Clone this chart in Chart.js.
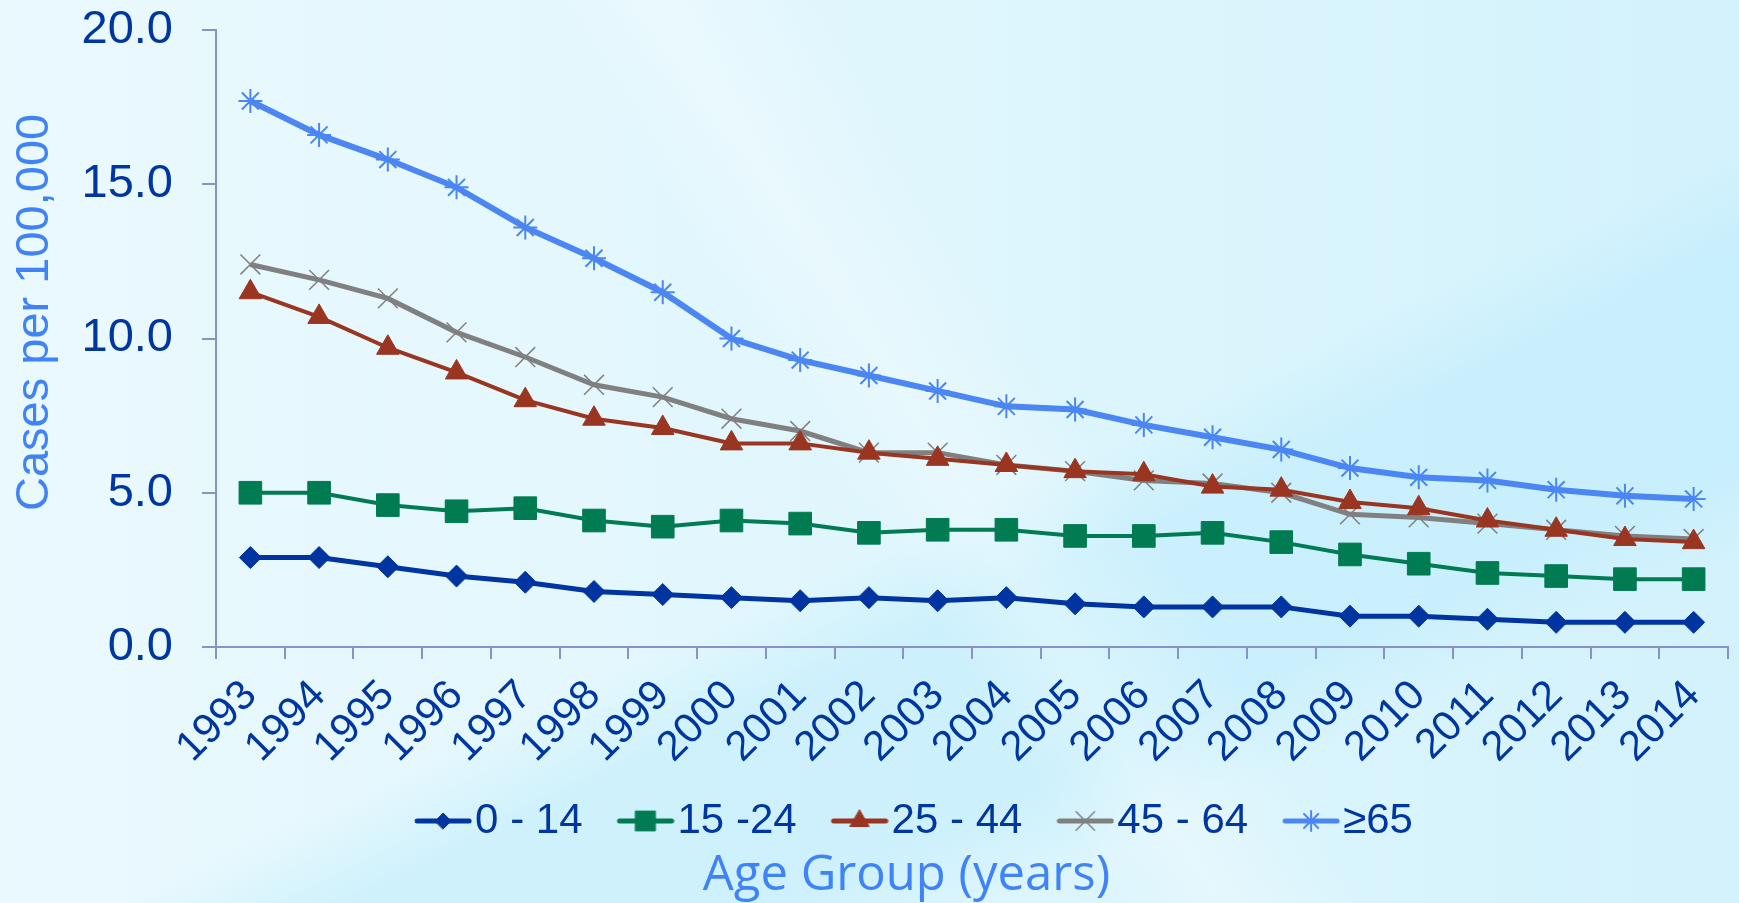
<!DOCTYPE html>
<html>
<head>
<meta charset="utf-8">
<script src="https://cdn.jsdelivr.net/npm/chart.js@4.4.1/dist/chart.umd.min.js"></script>
<style>
html,body{margin:0;padding:0;width:1739px;height:903px;overflow:hidden;}
body{
  background:
    linear-gradient(58deg, rgba(255,255,255,0) 48%, rgba(255,255,255,0.28) 53%, rgba(255,255,255,0) 60%),
    linear-gradient(-25deg, rgba(190,236,252,0) 20%, rgba(190,236,252,0.55) 26%, rgba(190,236,252,0.55) 38%, rgba(190,236,252,0) 44%),
    linear-gradient(90deg, #eaf9fe 0%, #e2f7fd 40%, #d3f2fc 100%);
}
#wrap{position:relative;width:1739px;height:903px;}
</style>
</head>
<body>
<div id="wrap"><canvas id="c" width="1739" height="903"></canvas></div>
<script>
const years = ['1993','1994','1995','1996','1997','1998','1999','2000','2001','2002','2003','2004','2005','2006','2007','2008','2009','2010','2011','2012','2013','2014'];
const seriesNames = ['0 - 14','15 -24','25 - 44','45 - 64','\u226565'];
const age0to14  = [2.9,2.9,2.6,2.3,2.1,1.8,1.7,1.6,1.5,1.6,1.5,1.6,1.4,1.3,1.3,1.3,1.0,1.0,0.9,0.8,0.8,0.8];
const age15to24 = [5.0,5.0,4.6,4.4,4.5,4.1,3.9,4.1,4.0,3.7,3.8,3.8,3.6,3.6,3.7,3.4,3.0,2.7,2.4,2.3,2.2,2.2];
const age25to44 = [11.5,10.7,9.7,8.9,8.0,7.4,7.1,6.6,6.6,6.3,6.1,5.9,5.7,5.6,5.2,5.1,4.7,4.5,4.1,3.8,3.5,3.4];
const age45to64 = [12.4,11.9,11.3,10.2,9.4,8.5,8.1,7.4,7.0,6.3,6.3,5.9,5.7,5.4,5.3,5.0,4.3,4.2,4.0,3.8,3.6,3.5];
const age65plus = [17.7,16.6,15.8,14.9,13.6,12.6,11.5,10.0,9.3,8.8,8.3,7.8,7.7,7.2,6.8,6.4,5.8,5.5,5.4,5.1,4.9,4.8];
const yTickValues = [0,5,10,15,20];

const seriesValues = [age0to14, age15to24, age25to44, age45to64, age65plus];
const colors = ['#0034a0', '#007b52', '#9a3521', '#808080', '#4b86f2'];
const lineWidths = [5, 4, 4, 5, 6];
const pointStyles = ['rectRot', 'rect', 'triangle', 'crossRot', 'star'];
const pointRadii = [11, 16, 13, 14, 12];
const pointBorderWidths = [1, 1, 1, 1.5, 2];
const legendRadii = [8, 14, 11, 13, 10];

const tickColor = '#0036a0';
const titleColor = '#3f83f7';
const axisColor = '#8a90c8';
const sansFamily = '"Liberation Sans", Arial, sans-serif';

function makeIcon(i) {
  const c = document.createElement('canvas');
  c.width = 100; c.height = 30;
  const g = c.getContext('2d');
  g.strokeStyle = colors[i];
  g.fillStyle = colors[i];
  g.lineWidth = 5;
  g.lineCap = 'round';
  g.beginPath(); g.moveTo(45, 15); g.lineTo(97, 15); g.stroke();
  g.lineWidth = pointBorderWidths[i];
  if (Chart.helpers && Chart.helpers.drawPoint) {
    Chart.helpers.drawPoint(g, {pointStyle: pointStyles[i], radius: legendRadii[i], rotation: 0, borderWidth: pointBorderWidths[i]}, 71, 15);
  }
  return c;
}
const legendIcons = seriesNames.map((_, i) => makeIcon(i));

const datasets = seriesNames.map((name, i) => ({
  label: name,
  data: seriesValues[i],
  borderColor: colors[i],
  backgroundColor: colors[i],
  borderWidth: lineWidths[i],
  pointStyle: pointStyles[i],
  pointRadius: pointRadii[i],
  pointBorderWidth: pointBorderWidths[i],
  pointBackgroundColor: colors[i],
  pointBorderColor: colors[i],
  tension: 0,
  clip: false
}));

const shiftPlugin = {
  id: 'shiftBottomBlocks',
  afterLayout(chart) {
    const dxLegend = 36, dxTitle = 41;
    if (chart.legend) { chart.legend.left += dxLegend; chart.legend.right += dxLegend; }
    if (chart.titleBlock) { chart.titleBlock.left += dxTitle; chart.titleBlock.right += dxTitle; }
  }
};

new Chart(document.getElementById('c'), {
  type: 'line',
  data: { labels: years, datasets },
  plugins: [shiftPlugin],
  options: {
    responsive: false,
    animation: false,
    devicePixelRatio: 1,
    layout: { autoPadding: false, padding: { top: 30, right: 11, left: 3, bottom: 0 } },
    plugins: {
      tooltip: { enabled: false },
      legend: {
        position: 'bottom',
        labels: {
          usePointStyle: true,
          pointStyleWidth: 64,
          padding: 10,
          color: tickColor,
          font: { family: sansFamily, size: 42 },
          generateLabels(chart) {
            const items = Chart.defaults.plugins.legend.labels.generateLabels(chart);
            items.forEach((it, i) => { it.pointStyle = legendIcons[i]; it.lineWidth = 0; it.fontColor = tickColor; });
            return items;
          }
        }
      },
      title: {
        display: true,
        position: 'bottom',
        text: 'Age Group (years)',
        color: titleColor,
        font: { family: '"Open Sans", sans-serif', size: 49, weight: 'normal', lineHeight: 1.0 },
        padding: { top: 0, bottom: 2 }
      }
    },
    scales: {
      x: {
        offset: true,
        afterFit(scale) { scale.height = 143; scale.paddingLeft = 0; scale.paddingRight = 0; },
        grid: { offset: true, drawOnChartArea: false, drawTicks: true, tickLength: 12, color: axisColor, lineWidth: 2 },
        border: { color: axisColor, width: 2 },
        ticks: { minRotation: 45, maxRotation: 45, autoSkip: false, color: tickColor, font: { family: sansFamily, size: 42 }, padding: 12 }
      },
      y: {
        min: 0, max: 20,
        afterBuildTicks(scale) { scale.ticks = yTickValues.map(v => ({ value: v })); },
        afterFit(scale) { scale.width = 213; scale.paddingTop = 0; scale.paddingBottom = 0; },
        grid: { drawOnChartArea: false, drawTicks: true, tickLength: 14, color: axisColor, lineWidth: 2 },
        border: { color: axisColor, width: 2 },
        ticks: { color: tickColor, font: { family: sansFamily, size: 47 }, padding: 29, callback: v => Number(v).toFixed(1) },
        title: { display: true, text: '    Cases per 100,000', color: titleColor, font: { family: sansFamily, size: 47 }, padding: { top: 4, bottom: 4 } }
      }
    }
  }
});
</script>
</body>
</html>
